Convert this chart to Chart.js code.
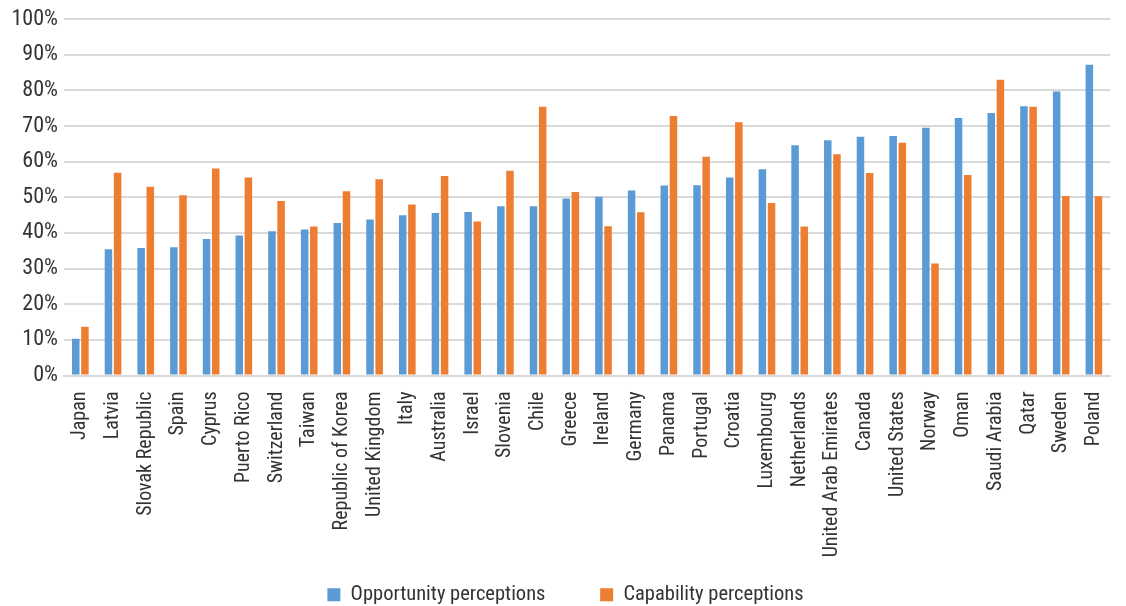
<!DOCTYPE html>
<html>
<head>
<meta charset="utf-8">
<script src="https://cdn.jsdelivr.net/npm/chart.js@4/dist/chart.umd.min.js"></script>
<style>
  body { margin: 0; background: #fff; }
</style>
</head>
<body>
<canvas id="myChart" width="1126" height="606"></canvas>
<script>
// data
const countries = ["Japan", "Latvia", "Slovak Republic", "Spain", "Cyprus", "Puerto Rico", "Switzerland", "Taiwan",
  "Republic of Korea", "United Kingdom", "Italy", "Australia", "Israel", "Slovenia", "Chile", "Greece", "Ireland",
  "Germany", "Panama", "Portugal", "Croatia", "Luxembourg", "Netherlands", "United Arab Emirates", "Canada",
  "United States", "Norway", "Oman", "Saudi Arabia", "Qatar", "Sweden", "Poland"];
const opportunity = [10.3, 35.4, 35.8, 36.0, 38.3, 39.3, 40.5, 41.0, 42.8, 43.8, 45.0, 45.6, 45.9, 47.5, 47.5, 49.7,
  50.2, 51.9, 53.3, 53.4, 55.6, 57.9, 64.6, 66.0, 67.0, 67.2, 69.5, 72.3, 73.7, 75.6, 79.7, 87.2];
const capability = [13.7, 56.9, 53.0, 50.6, 58.1, 55.6, 49.0, 41.8, 51.7, 55.1, 48.0, 56.0, 43.2, 57.5, 75.4, 51.5,
  41.9, 45.8, 72.8, 61.4, 71.1, 48.4, 41.8, 62.1, 56.8, 65.3, 31.4, 56.3, 83.0, 75.4, 50.4, 50.3];
const yTicks = [0, 10, 20, 30, 40, 50, 60, 70, 80, 90, 100];

const fontFamily = "'Roboto Condensed', 'DejaVu Sans Condensed', sans-serif";
const textColor = "#333333";
const legendFontSize = 20.5;

// pad a legend text with spaces until it is about `target` px wide
function padText(ctx, text, target) {
  ctx.save();
  ctx.font = legendFontSize + "px " + fontFamily;
  let t = text;
  while (ctx.measureText(t + " ").width <= target) t += " ";
  ctx.restore();
  return t;
}

const ctx = document.getElementById("myChart").getContext("2d");
new Chart(ctx, {
  type: "bar",
  data: {
    labels: countries,
    datasets: [
      { label: "Opportunity perceptions", data: opportunity, backgroundColor: "#5B9BD5" },
      { label: "Capability perceptions", data: capability, backgroundColor: "#ED7D31" }
    ]
  },
  options: {
    responsive: false,
    animation: false,
    datasets: { bar: { categoryPercentage: 0.56, barPercentage: 0.82 } },
    layout: { padding: { left: 10, right: 5, top: 14, bottom: -9 } },
    plugins: {
      tooltip: { enabled: false },
      legend: {
        position: "bottom",
        labels: {
          boxWidth: 13,
          boxHeight: 13,
          padding: 3,
          color: textColor,
          font: { family: fontFamily, size: legendFontSize },
          // the original leaves a wide gap between the two entries
          generateLabels: (chart) => {
            const items = Chart.defaults.plugins.legend.labels.generateLabels(chart);
            items[0].text = padText(chart.ctx, items[0].text, 250);
            return items;
          }
        }
      }
    },
    scales: {
      x: {
        grid: { display: false },
        border: { color: "#d9d9d9", width: 2 },
        ticks: {
          autoSkip: false,
          maxRotation: 90,
          minRotation: 90,
          padding: 8,
          color: textColor,
          font: { family: fontFamily, size: 20 }
        },
        afterFit: (scale) => { scale.height = 206; }
      },
      y: {
        min: 0,
        max: 100,
        afterBuildTicks: (scale) => { scale.ticks = yTicks.map(v => ({ value: v })); },
        grid: { color: "#d9d9d9", lineWidth: 2, drawTicks: false },
        border: { display: false },
        ticks: {
          padding: 6,
          color: textColor,
          font: { family: fontFamily, size: 22 },
          callback: (v) => v + "%"
        },
        afterFit: (scale) => { scale.width = 54; }
      }
    }
  }
});
</script>
</body>
</html>
